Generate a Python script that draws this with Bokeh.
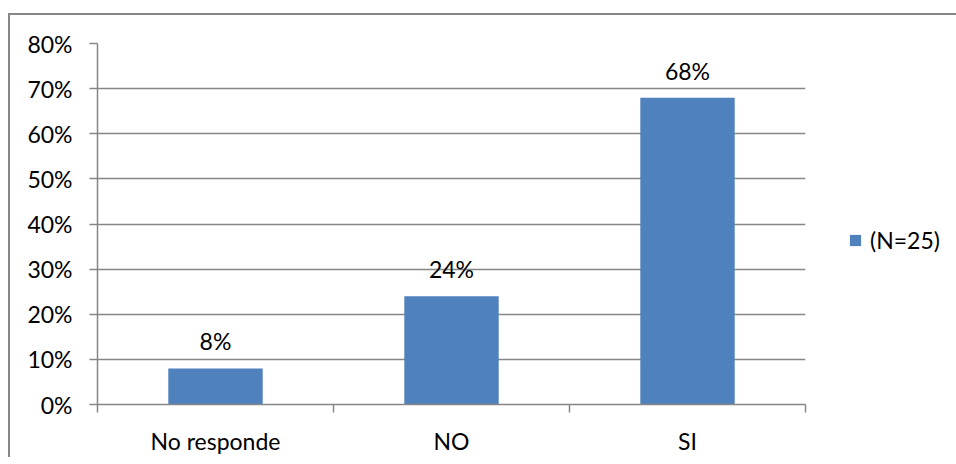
from bokeh.plotting import figure
from bokeh.models import (ColumnDataSource, Range1d, FixedTicker, NumeralTickFormatter,
                          LabelSet, Legend, LegendItem)
from bokeh.core.properties import value
from bokeh.embed import file_html
from bokeh.resources import INLINE

categories = ["No responde", "NO", "SI"]
values = [0.08, 0.24, 0.68]
series_name = "(N=25)"
y_ticks = [0.0, 0.1, 0.2, 0.3, 0.4, 0.5, 0.6, 0.7, 0.8]

FONT = "Lato"
FS = "23px"
GRID = "#868686"
BAR = "#4F81BD"

xpos = [i + 0.5 for i in range(len(categories))]
labels = [f"{round(v * 100)}%" for v in values]
src = ColumnDataSource(dict(x=xpos, top=values, label=labels))

p = figure(width=946, height=441, output_backend="svg", toolbar_location=None,
           x_range=Range1d(0, len(categories)), y_range=Range1d(0, 0.8),
           min_border_left=87, min_border_top=28, min_border_right=151, min_border_bottom=52)
p.frame_width = 708
p.frame_height = 361
p.styles = {"border-top": "2px solid #868686", "border-left": "2px solid #868686",
            "margin-top": "13px", "margin-left": "8px"}
p.outline_line_color = None
p.background_fill_color = "white"
p.border_fill_color = "white"

r = p.vbar(x="x", top="top", width=0.4, bottom=0, source=src, fill_color=BAR, line_color=None)

# axes
xa = p.xaxis[0]
xa.ticker = FixedTicker(ticks=xpos, minor_ticks=list(range(len(categories) + 1)))
xa.major_label_overrides = {x: c for x, c in zip(xpos, categories)}
xa.major_tick_out = 0
xa.major_tick_in = 0
xa.minor_tick_out = 8
xa.minor_tick_in = 0
xa.minor_tick_line_color = GRID
xa.minor_tick_line_width = 1.5
xa.axis_line_color = GRID
xa.axis_line_width = 1.5
xa.major_label_text_font = FONT
xa.major_label_text_font_size = FS
xa.major_label_text_color = "black"
xa.major_label_standoff = 14

ya = p.yaxis[0]
ya.ticker = FixedTicker(ticks=y_ticks, minor_ticks=[])
ya.formatter = NumeralTickFormatter(format="0%")
ya.major_tick_out = 8
ya.major_tick_in = 0
ya.major_tick_line_color = GRID
ya.major_tick_line_width = 1.5
ya.axis_line_color = GRID
ya.axis_line_width = 1.5
ya.major_label_text_font = FONT
ya.major_label_text_font_size = FS
ya.major_label_text_color = "black"
ya.major_label_standoff = 17

p.xgrid.grid_line_color = None
p.ygrid.ticker = FixedTicker(ticks=y_ticks)
p.ygrid.grid_line_color = GRID
p.ygrid.grid_line_width = 1.5

lbl = LabelSet(x="x", y="top", text="label", source=src, text_align="center",
               text_baseline="alphabetic", y_offset=18, text_font=value(FONT),
               text_font_size=value(FS), text_color="black")
p.add_layout(lbl)

legend = Legend(items=[LegendItem(label=series_name, renderers=[r])],
                location=(43, 150), border_line_color=None, background_fill_alpha=0,
                padding=0, margin=0, glyph_width=14, glyph_height=14, label_standoff=8,
                label_text_font=FONT, label_text_font_size=FS, label_text_color="black")
p.add_layout(legend, "right")

open("out.html", "w").write(file_html(p, INLINE))
